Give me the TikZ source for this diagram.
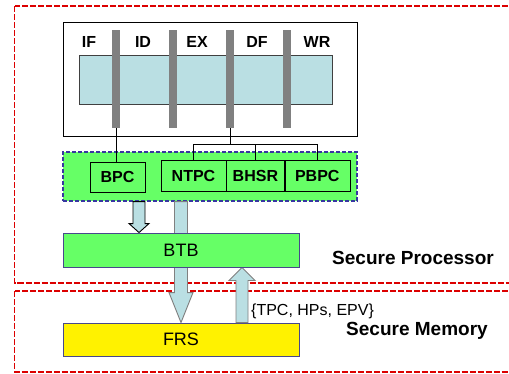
\documentclass[tikz,border=0pt]{standalone}
\usepackage{fontspec}
\setmainfont{Liberation Sans}
\usetikzlibrary{positioning,calc}

\definecolor{regreen}{RGB}{102,255,102}
\definecolor{pipeblue}{RGB}{186,223,227}
\definecolor{unitedge}{RGB}{72,72,140}
\definecolor{grpblue}{RGB}{55,55,160}
\definecolor{zonered}{RGB}{220,0,0}

% block arrow: [style]{from}{tip}{half shaft}{half head}{head length}
\newcommand{\fatarrow}[6][]{%
  \draw[fatarrow,#1] let \p1=(#2), \p2=(#3), \n1={sign(\y2-\y1)} in
    ({\x1-#4},\y1) -- ({\x1-#4},{\y2-(\n1)*#6}) -- ({\x1-#5},{\y2-(\n1)*#6})
    -- (\x1,\y2) -- ({\x1+#5},{\y2-(\n1)*#6}) -- ({\x1+#4},{\y2-(\n1)*#6})
    -- ({\x1+#4},\y1) -- cycle;}

\tikzset{
  zone/.style={draw=zonered,line width=1.6pt,dash pattern=on 6pt off 2pt},
  zonelabel/.style={font=\fontsize{19}{21}\selectfont\bfseries},
  stage/.style={font=\fontsize{16}{18}\selectfont\bfseries},
  stagebar/.style={fill=gray,minimum width=8pt,minimum height=98pt,inner sep=0pt},
  reg/.style={draw,fill=regreen,minimum height=31pt,inner sep=0pt,
    font=\fontsize{16}{18}\selectfont\bfseries},
  unit/.style={draw=unitedge,line width=0.9pt,minimum width=236pt,minimum height=34pt,
    inner sep=0pt,font=\fontsize{18}{20}\selectfont},
  fatarrow/.style={fill=pipeblue,draw=gray,line width=0.9pt},
}

\begin{document}
\begin{tikzpicture}[x=1pt,y=-1pt]
\useasboundingbox (0,0) rectangle (509,373);

% secure zones
\draw[zone] (14.5,6) rectangle (540,283);
\draw[zone] (14.5,291) rectangle (540,372);
\node[zonelabel] (proclbl) at (413,258) {Secure Processor};
\node[zonelabel] (memlbl) at (417,331) {Secure Memory};

% pipeline
\node[draw,line width=0.8pt,minimum width=294pt,minimum height=114pt] (pipe) at (210,79) {};
\node[draw=darkgray,fill=pipeblue,minimum width=253pt,minimum height=49pt] (band) at (205.5,79.5) {};
\foreach \x/\n in {116/1,173/2,230/3,287/4}
  \node[stagebar] (bar\n) at (\x,79) {};
\foreach \x/\s in {89/IF,143/ID,197/EX,257/DF,317/WR}
  \node[stage] at (\x,42) {\s};

% history registers
\node[draw=grpblue,line width=1.3pt,dash pattern=on 4pt off 2pt,fill=regreen,
  minimum width=294pt,minimum height=49pt] (grp) at (210,176.5) {};
\node[reg,minimum width=55pt,minimum height=30pt] (bpc) at (117.5,177) {BPC};
\node[reg,minimum width=65pt] (ntpc) at (193.5,175.5) {NTPC};
\node[reg,minimum width=58pt,right=0pt of ntpc] (bhsr) {BHSR};
\node[reg,minimum width=65pt,right=0pt of bhsr] (pbpc) {PBPC};

\draw[line width=0.8pt] (bar1.south) -- (bar1.south |- bpc.north);
\draw[line width=0.8pt] (bar3.south) -- ++(0,16) coordinate (split);
\draw[line width=0.8pt] (ntpc.north) |- (pbpc.north |- split) -- (pbpc.north);
\draw[line width=0.8pt] (bhsr.north) -- (bhsr.north |- split);

% target buffer and store
\node[unit,fill=regreen] (btb) at (181,250) {};
\node[unit,fill=yellow,minimum height=33pt] (frs) at (181,339.5) {FRS};
\coordinate (bpcarr) at ([xshift=-42pt]btb.north);
\coordinate (uparr) at ([xshift=61pt]frs.north);

\fatarrow[draw=black]{bpcarr |- grp.south}{bpcarr}{6pt}{10pt}{9pt}
\fatarrow{btb.center |- grp.south}{frs.north}{6.5pt}{12pt}{30pt}
\fatarrow{uparr}{uparr |- btb.south}{6pt}{13pt}{13pt}

\node[unit,fill=regreen] at (btb) {BTB};
\node[anchor=west,xshift=9pt,yshift=11pt,inner sep=0pt,
  font=\fontsize{16}{18}\selectfont] (hist) at (uparr) {\{TPC, HPs, EPV\}};
\end{tikzpicture}
\end{document}
